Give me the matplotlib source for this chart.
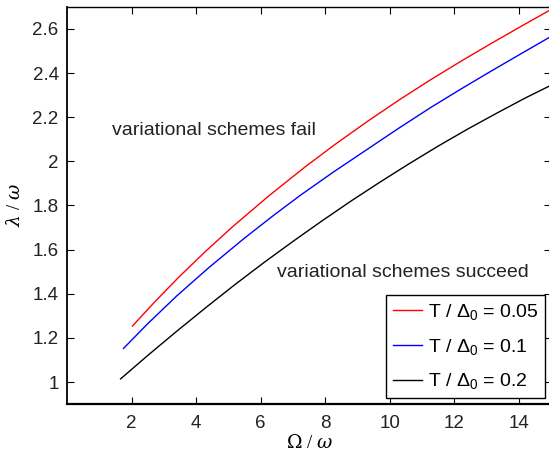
import numpy as np
import matplotlib
matplotlib.use('Agg')
import matplotlib.pyplot as plt

# curves
x_005 = [2.03, 2.7, 3.45, 4.3, 5.15, 6.25, 7.38, 8.3, 9.3, 10.3, 11.26, 12.2, 13.12, 14.05, 14.95, 15.0]
y_005 = [1.254, 1.360, 1.473, 1.593, 1.706, 1.843, 1.975, 2.076, 2.180, 2.279, 2.369, 2.453, 2.532, 2.610, 2.684, 2.688]

x_01 = [1.75, 2.5, 3.4, 4.4, 5.5, 6.4, 7.22, 8.25, 9.29, 10.3, 11.26, 12.2, 13.12, 14.05, 14.95, 15.0]
y_01 = [1.152, 1.264, 1.39, 1.519, 1.652, 1.755, 1.845, 1.951, 2.053, 2.152, 2.243, 2.327, 2.407, 2.486, 2.562, 2.566]

x_02 = [1.66, 2.5, 3.4, 4.3, 5.2, 6.1, 7.0, 7.9, 8.8, 9.7, 10.6, 11.5, 12.4, 13.3, 14.2, 15.0]
y_02 = [1.014, 1.120, 1.230, 1.337, 1.441, 1.541, 1.637, 1.730, 1.820, 1.906, 1.989, 2.069, 2.145, 2.217, 2.287, 2.345]

labels = [r'T / $\Delta_0$ = 0.05', r'T / $\Delta_0$ = 0.1', r'T / $\Delta_0$ = 0.2']
colors = ['#ff0000', '#0000ff', '#000000']

plt.rcParams['font.family'] = ['Liberation Sans', 'DejaVu Sans']
plt.rcParams['mathtext.fontset'] = 'custom'
plt.rcParams['mathtext.rm'] = 'Liberation Sans'
plt.rcParams['mathtext.it'] = 'Liberation Sans'

fig = plt.figure(figsize=(5.49, 4.53), dpi=100)
ax = fig.add_axes([0.122, 0.108, 0.882, 0.877])

ax.plot(x_005, y_005, color=colors[0], lw=1.0, label=labels[0])
ax.plot(x_01, y_01, color=colors[1], lw=1.0, label=labels[1])
ax.plot(x_02, y_02, color=colors[2], lw=1.0, label=labels[2])

ax.set_xlim(0, 15)
ax.set_ylim(0.9, 2.7)
ax.set_xticks([2, 4, 6, 8, 10, 12, 14])
ax.set_yticks([1, 1.2, 1.4, 1.6, 1.8, 2, 2.2, 2.4, 2.6])
ax.set_yticklabels(['1', '1.2', '1.4', '1.6', '1.8', '2', '2.2', '2.4', '2.6'])
ax.tick_params(direction='in', top=True, right=True, length=5, width=0.8,
               labelsize=13.5, labelcolor='#222222')
ax.tick_params(axis='x', pad=8)
ax.tick_params(axis='y', pad=6)
for s in ax.spines.values():
    s.set_linewidth(1.0)
ax.spines['bottom'].set_linewidth(1.6)
ax.spines['left'].set_linewidth(1.3)

ax.set_xlabel(r'$\Omega$ / $\omega$', family='Liberation Serif', fontsize=13.5, labelpad=1)
ax.set_ylabel(r'$\lambda$ / $\omega$', family='Liberation Serif', fontsize=13.5, labelpad=6)
ax.xaxis.label.set_math_fontfamily('dejavuserif')
ax.yaxis.label.set_math_fontfamily('dejavuserif')

ax.text(1.40, 2.139, 'variational schemes fail', fontsize=14, color='#222222', va='center')
ax.text(6.51, 1.497, 'variational schemes succeed', fontsize=14, color='#222222', va='center')

leg = ax.legend(loc='lower right', fontsize=14, fancybox=False, framealpha=1,
                edgecolor='black', handlelength=1.5, handletextpad=0.3,
                borderaxespad=0.3, labelspacing=0.75, borderpad=0.35)
leg.get_frame().set_linewidth(1.0)

fig.savefig('out.png', dpi=100)
